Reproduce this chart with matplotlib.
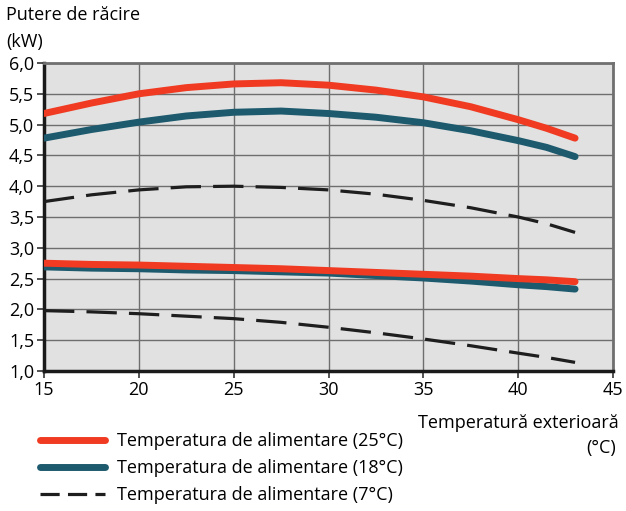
import matplotlib
matplotlib.use("Agg")
import matplotlib.pyplot as plt
from matplotlib.lines import Line2D

plt.rcParams['font.family'] = ['Open Sans', 'DejaVu Sans']

x_vals = [15, 17.5, 20, 22.5, 25, 27.5, 30, 32.5, 35, 37.5, 40, 41.5, 43]
red_upper = [5.18, 5.35, 5.50, 5.60, 5.66, 5.68, 5.64, 5.56, 5.45, 5.29, 5.08, 4.94, 4.78]
blue_upper = [4.78, 4.92, 5.04, 5.14, 5.20, 5.22, 5.18, 5.12, 5.03, 4.90, 4.74, 4.63, 4.48]
black_upper = [3.75, 3.86, 3.94, 3.99, 4.00, 3.98, 3.94, 3.87, 3.77, 3.65, 3.50, 3.39, 3.25]
red_lower = [2.75, 2.73, 2.72, 2.70, 2.68, 2.66, 2.63, 2.60, 2.57, 2.54, 2.50, 2.48, 2.45]
blue_lower = [2.69, 2.67, 2.66, 2.64, 2.63, 2.61, 2.59, 2.55, 2.51, 2.46, 2.40, 2.37, 2.33]
black_lower = [1.98, 1.96, 1.93, 1.89, 1.85, 1.79, 1.71, 1.62, 1.52, 1.41, 1.29, 1.22, 1.14]

x_ticks = [15, 20, 25, 30, 35, 40, 45]
y_ticks = [1.0, 1.5, 2.0, 2.5, 3.0, 3.5, 4.0, 4.5, 5.0, 5.5, 6.0]
legend_labels = ["Temperatura de alimentare (25°C)",
                 "Temperatura de alimentare (18°C)",
                 "Temperatura de alimentare (7°C)"]

RED = "#f03b22"
BLUE = "#1d5a6e"
BLACK = "#1e1e1e"
FS = 13

fig = plt.figure(figsize=(6.26, 5.11), dpi=100)
ax = fig.add_axes([44/626, 1-371/511, (613-44)/626, (371-63)/511])
ax.set_facecolor("#e1e1e1")

solid = dict(lw=5, solid_capstyle='round', solid_joinstyle='round', zorder=3)
dash = dict(lw=2.3, dashes=(9.5, 3.8), zorder=3)
ax.plot(x_vals, red_upper, color=RED, **solid)
ax.plot(x_vals, blue_upper, color=BLUE, **solid)
ax.plot(x_vals, black_upper, color=BLACK, **dash)
ax.plot(x_vals, blue_lower, color=BLUE, **solid)
ax.plot(x_vals, red_lower, color=RED, **solid)
ax.plot(x_vals, black_lower, color=BLACK, **dash)

ax.set_xlim(15, 45)
ax.set_ylim(1.0, 6.0)
ax.set_xticks(x_ticks)
ax.set_xticklabels([str(v) for v in x_ticks])
ax.set_yticks(y_ticks)
ax.set_yticklabels([f"{v:.1f}".replace('.', ',') for v in y_ticks])
ax.grid(True, color="#6e6e6e", lw=1.0, zorder=1)
ax.set_axisbelow(True)
ax.tick_params(axis='both', labelsize=FS, length=5, width=1.2, color="#333333", pad=2)

for side in ['left', 'bottom']:
    ax.spines[side].set_color("#1a1a1a")
    ax.spines[side].set_linewidth(2.5)
for side in ['top', 'right']:
    ax.spines[side].set_color("#707070")
    ax.spines[side].set_linewidth(2.0)

fig.text(6/626, 1-15/511, "Putere de răcire", fontsize=FS, va='center', ha='left')
fig.text(6/626, 1-42/511, "(kW)", fontsize=FS, va='center', ha='left')
fig.text(619/626, 1-423/511, "Temperatură exterioară", fontsize=FS, va='center', ha='right')
fig.text(616/626, 1-448/511, "(°C)", fontsize=FS, va='center', ha='right')

handles = [Line2D([0], [0], color=RED, lw=5, solid_capstyle='round'),
           Line2D([0], [0], color=BLUE, lw=5, solid_capstyle='round'),
           Line2D([0], [0], color=BLACK, lw=2.3, dashes=(6, 2.6))]
fig.legend(handles, legend_labels, loc='upper left', bbox_to_anchor=(40/626, 1-432/511),
           frameon=False, fontsize=FS, handlelength=3.6, handletextpad=0.65,
           labelspacing=0.5, borderaxespad=0, borderpad=0)

fig.savefig("out.png", dpi=100)
